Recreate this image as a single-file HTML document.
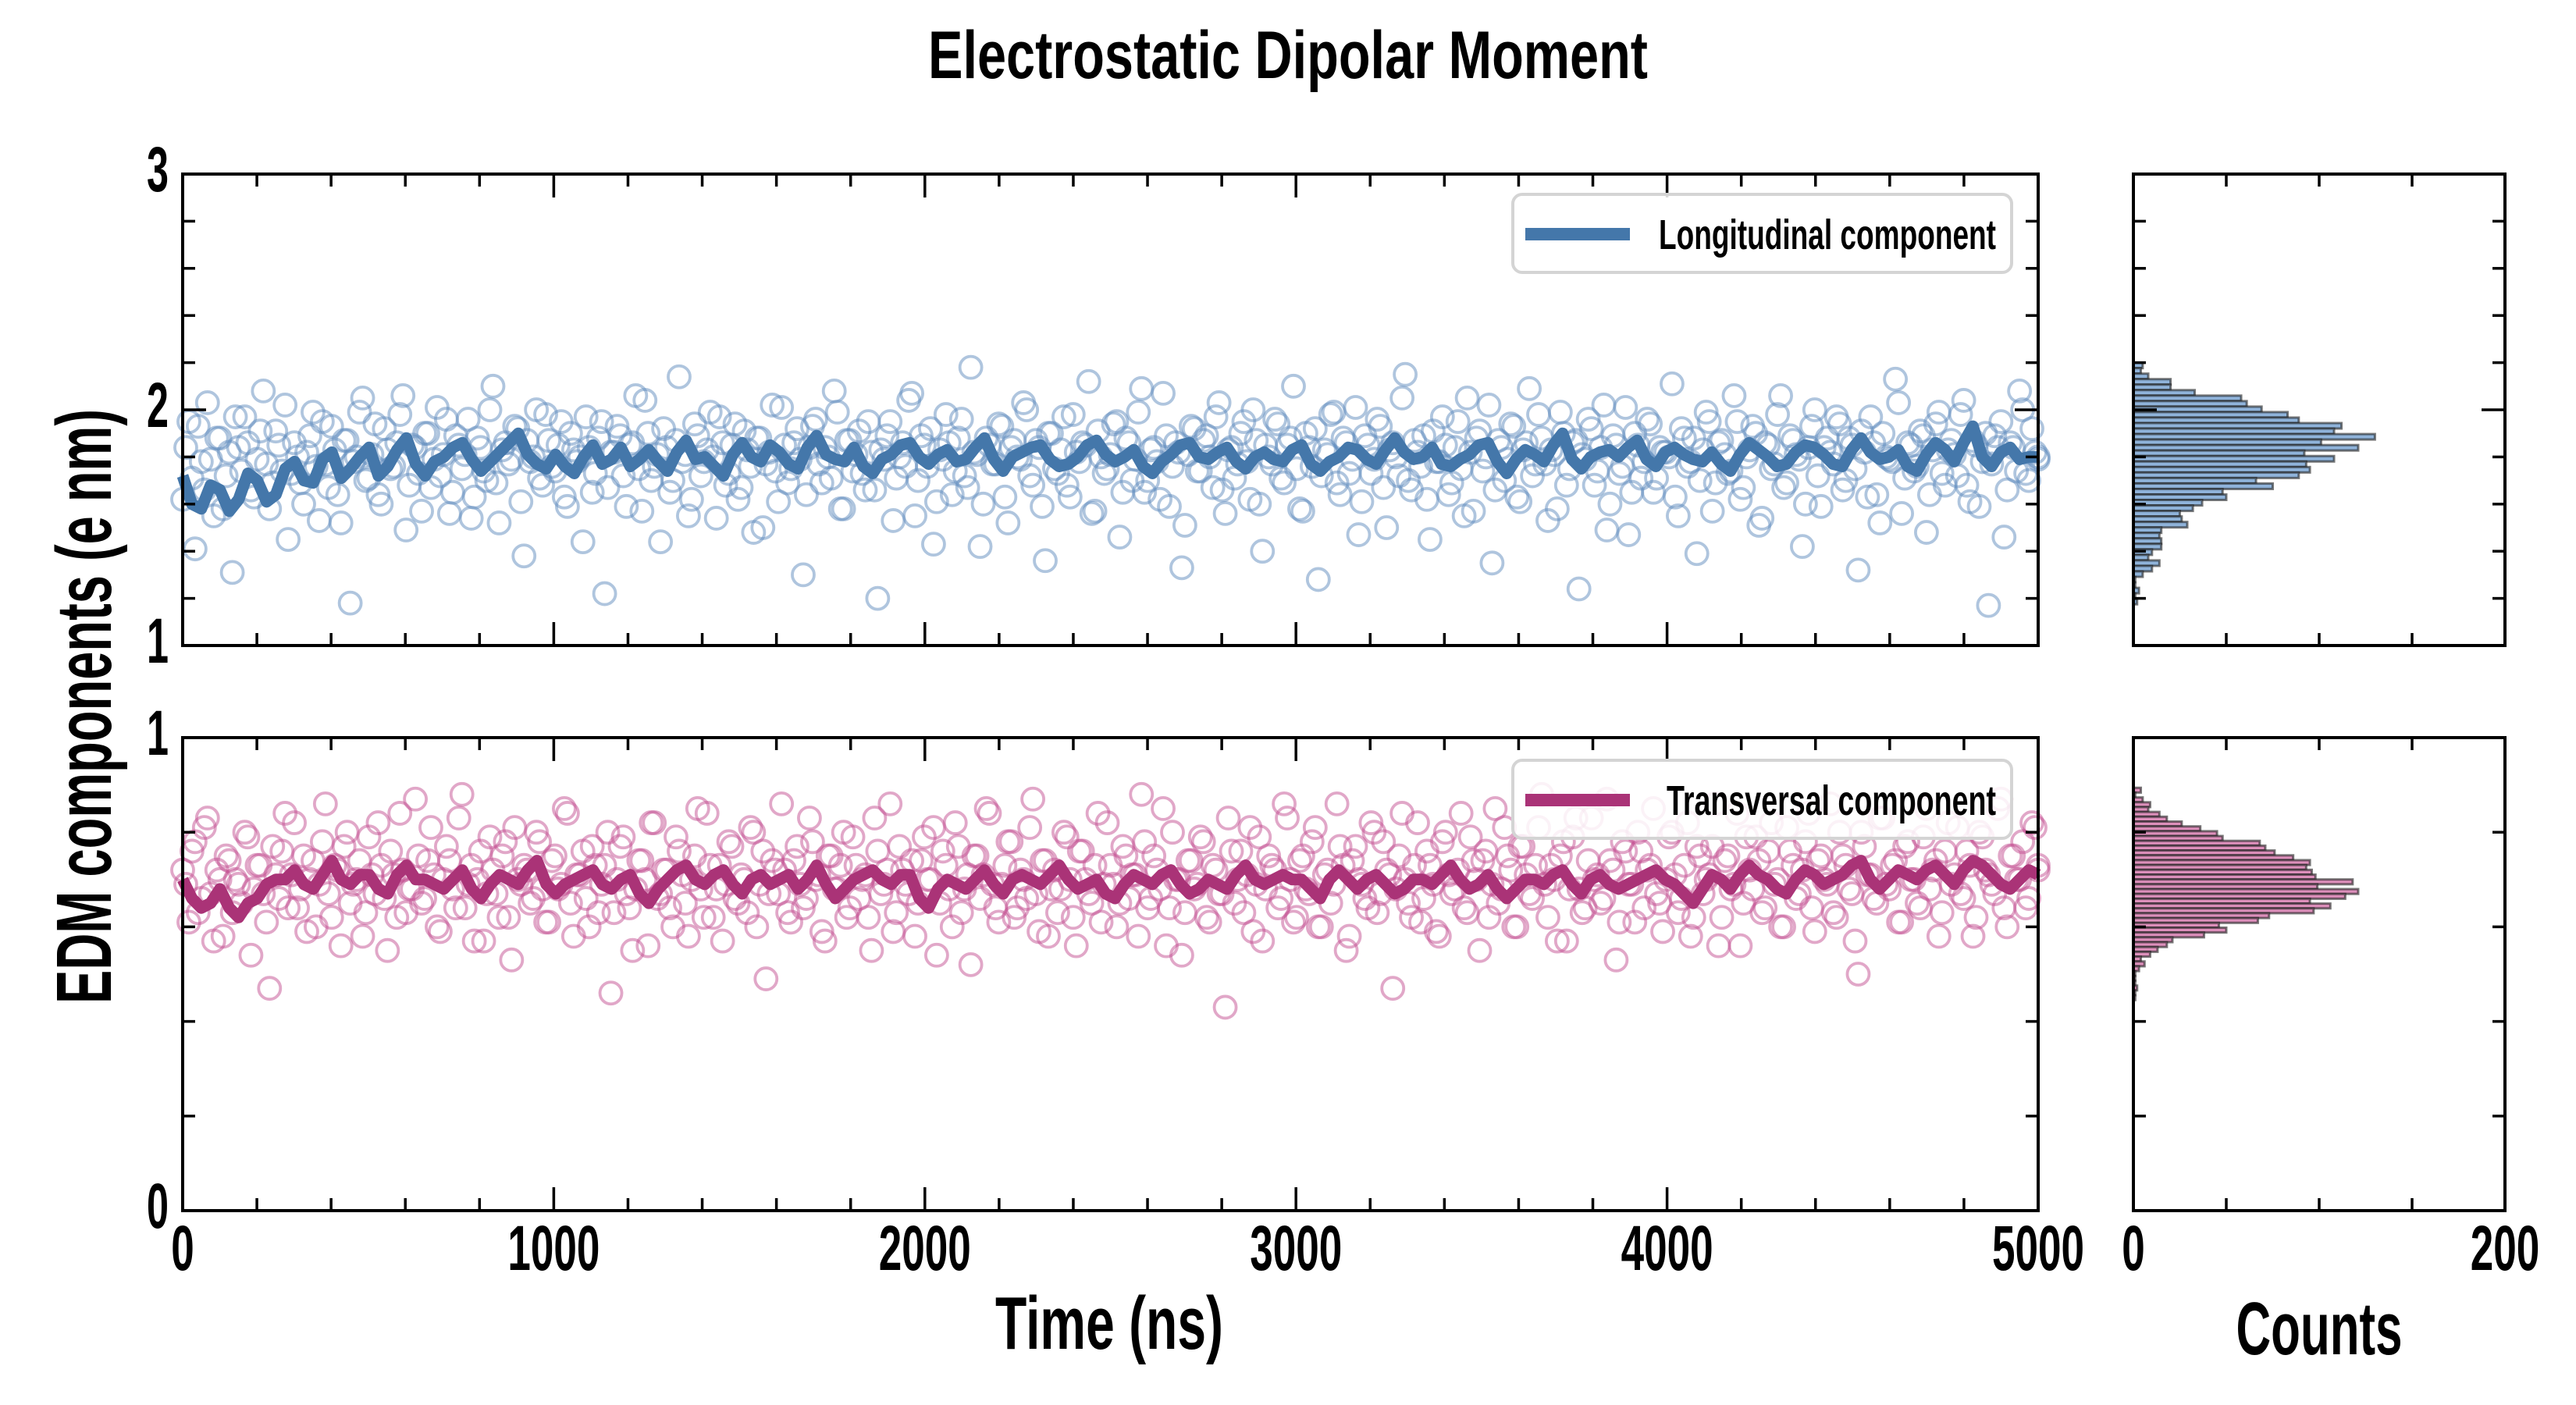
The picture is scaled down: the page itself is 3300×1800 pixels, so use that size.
<!DOCTYPE html>
<html><head><meta charset="utf-8"><style>
html,body{margin:0;padding:0;background:#fff;}
svg{display:block;}
text{font-family:"Liberation Sans Narrow","Liberation Sans",sans-serif;font-weight:bold;fill:#000;}
</style></head><body>
<svg id="chart" width="3300" height="1800" viewBox="0 0 3300 1800" xmlns="http://www.w3.org/2000/svg">
<text x="1650" y="100" text-anchor="middle" font-size="86" textLength="922" lengthAdjust="spacingAndGlyphs">Electrostatic Dipolar Moment</text>
<text transform="translate(142,905) rotate(-90)" text-anchor="middle" font-size="100" textLength="762" lengthAdjust="spacingAndGlyphs">EDM components (e nm)</text>
<text x="1421" y="1728" text-anchor="middle" font-size="96" textLength="292" lengthAdjust="spacingAndGlyphs">Time (ns)</text>
<text x="2971" y="1735" text-anchor="middle" font-size="96" textLength="213" lengthAdjust="spacingAndGlyphs">Counts</text>
<g id="layer"></g>
</svg>
<script>
const longValues = [
1.62,1.95,1.41,1.78,2.03,1.55,1.88,1.72,1.31,1.84,1.97,1.66,1.79,2.08,1.58,1.91,1.74,1.45,1.86,1.69,
1.82,1.99,1.53,1.77,1.93,1.64,1.87,1.18,1.80,2.05,1.71,1.94,1.60,1.83,1.76,1.98,1.49,1.85,1.73,1.90,
1.67,2.01,1.81,1.56,1.89,1.75,1.96,1.63,1.84,1.70,2.10,1.52,1.86,1.79,1.92,1.38,1.78,2.00,1.68,1.87,
1.74,1.95,1.59,1.83,1.80,1.97,1.65,1.88,1.22,1.82,1.93,1.72,1.85,2.06,1.57,1.90,1.76,1.44,1.84,1.70,
2.14,1.81,1.62,1.89,1.78,1.99,1.54,1.86,1.73,1.94,1.67,1.83,1.48,1.88,1.77,2.02,1.61,1.85,1.75,1.92,
1.30,1.84,1.96,1.69,1.80,2.08,1.58,1.87,1.74,1.91,1.66,1.82,1.20,1.79,1.95,1.71,1.86,2.04,1.55,1.89,
1.76,1.43,1.83,1.98,1.64,1.88,1.72,2.18,1.81,1.60,1.85,1.77,1.93,1.52,1.87,1.79,2.00,1.68,1.84,1.36,
1.90,1.73,1.97,1.63,1.82,1.86,2.12,1.57,1.80,1.75,1.94,1.46,1.88,1.70,1.99,1.65,1.83,1.78,2.07,1.59,
1.86,1.33,1.81,1.92,1.74,1.89,1.67,2.03,1.56,1.84,1.77,1.95,1.62,1.87,1.40,1.80,1.96,1.71,1.85,2.10,
1.58,1.90,1.76,1.28,1.83,1.98,1.69,1.88,1.73,2.01,1.61,1.85,1.79,1.93,1.50,1.86,1.72,2.15,1.66,1.82,
1.89,1.45,1.78,1.97,1.64,1.84,1.75,2.05,1.57,1.91,1.80,1.35,1.87,1.70,1.94,1.63,1.83,2.09,1.77,1.88,
1.53,1.81,1.99,1.68,1.86,1.24,1.79,1.92,1.74,2.02,1.60,1.85,1.76,1.47,1.90,1.71,1.96,1.65,1.84,1.82,
2.11,1.55,1.88,1.78,1.39,1.83,1.95,1.69,1.87,1.73,2.06,1.62,1.80,1.93,1.51,1.86,1.75,1.98,1.67,1.89,
1.81,1.42,1.84,2.00,1.59,1.88,1.77,1.94,1.70,1.85,1.32,1.82,1.97,1.64,1.90,1.79,2.13,1.56,1.86,1.74,
1.91,1.48,1.83,1.99,1.68,1.87,1.72,2.04,1.61,1.85,1.78,1.17,1.89,1.95,1.66,1.84,2.08,1.73,1.92,1.80];
const longValuesB = [
1.84,1.71,1.93,1.66,1.79,1.88,1.58,1.82,1.97,1.74,1.86,1.63,1.91,1.77,1.69,1.85,2.02,1.73,1.80,1.60,
1.89,1.76,1.95,1.67,1.83,1.52,1.87,1.78,1.99,1.70,1.81,1.64,1.92,1.75,1.86,2.06,1.68,1.84,1.57,1.90,
1.79,1.72,1.96,1.65,1.85,1.81,1.54,1.88,1.74,2.00,1.69,1.83,1.77,1.93,1.61,1.87,1.80,1.71,1.98,1.76,
1.85,1.63,1.90,1.78,1.44,1.84,1.73,1.95,1.67,1.82,1.89,1.59,1.86,1.75,2.04,1.70,1.81,1.92,1.65,1.87,
1.78,1.55,1.94,1.72,1.83,1.80,1.97,1.68,1.85,1.62,1.91,1.76,1.88,1.50,1.82,1.74,2.01,1.69,1.86,1.79,
1.64,1.93,1.77,1.84,1.71,1.99,1.58,1.87,1.81,1.73,1.95,1.66,1.83,1.89,1.53,1.80,1.76,2.07,1.70,1.85,
1.92,1.61,1.79,1.86,1.74,1.96,1.67,1.82,1.42,1.88,1.77,1.94,1.63,1.84,1.80,2.03,1.72,1.87,1.59,1.90,
1.75,1.83,1.68,1.98,1.78,1.85,1.56,1.91,1.73,1.81,1.95,1.65,1.86,1.79,2.09,1.70,1.84,1.62,1.89,1.76,
1.82,1.51,1.93,1.74,1.87,1.80,1.97,1.66,1.83,1.71,1.90,1.78,2.00,1.60,1.85,1.77,1.94,1.69,1.88,1.75,
1.57,1.84,1.92,1.72,1.81,1.99,1.64,1.86,1.79,1.47,1.89,1.73,1.96,1.67,1.83,1.80,2.05,1.70,1.87,1.76,
1.62,1.91,1.78,1.85,1.69,1.95,1.55,1.82,1.88,1.74,2.02,1.66,1.84,1.79,1.93,1.61,1.86,1.72,1.98,1.77,
1.83,1.58,1.90,1.75,1.87,1.81,1.96,1.68,1.84,1.49,1.89,1.73,2.01,1.65,1.85,1.78,1.94,1.71,1.82,1.80,
1.63,1.92,1.76,1.88,1.70,1.99,1.57,1.86,1.81,1.74,1.95,1.67,1.83,1.90,1.54,1.85,1.77,2.06,1.69,1.87,
1.79,1.60,1.93,1.72,1.84,1.82,1.97,1.66,1.88,1.75,1.91,1.63,1.86,1.52,1.80,1.78,2.03,1.71,1.85,1.76,
1.89,1.64,1.94,1.73,1.83,1.81,1.98,1.68,1.87,1.59,1.90,1.77,1.84,1.46,1.86,1.74,2.00,1.70,1.82,1.79];
const transValues = [
0.72,0.61,0.78,0.66,0.83,0.57,0.70,0.75,0.63,0.69,0.80,0.54,0.73,0.67,0.47,0.71,0.76,0.64,0.82,0.68,
0.59,0.74,0.69,0.86,0.62,0.72,0.77,0.65,0.70,0.58,0.79,0.67,0.73,0.55,0.71,0.84,0.63,0.68,0.75,0.66,
0.81,0.60,0.70,0.74,0.64,0.88,0.69,0.57,0.76,0.67,0.72,0.62,0.78,0.53,0.70,0.73,0.65,0.80,0.68,0.61,
0.75,0.69,0.84,0.58,0.71,0.66,0.77,0.63,0.73,0.46,0.70,0.79,0.64,0.68,0.74,0.56,0.82,0.67,0.72,0.60,
0.76,0.65,0.70,0.85,0.62,0.73,0.68,0.57,0.78,0.66,0.71,0.63,0.80,0.69,0.49,0.74,0.67,0.72,0.61,0.77,
0.64,0.83,0.70,0.59,0.75,0.68,0.73,0.62,0.79,0.66,0.71,0.55,0.76,0.69,0.86,0.63,0.72,0.67,0.58,0.74,
0.70,0.81,0.65,0.73,0.60,0.77,0.68,0.52,0.75,0.71,0.84,0.64,0.69,0.78,0.62,0.72,0.66,0.87,0.59,0.74,
0.68,0.63,0.80,0.70,0.56,0.76,0.67,0.73,0.61,0.82,0.69,0.65,0.75,0.71,0.58,0.78,0.66,0.72,0.85,0.64,
0.70,0.54,0.74,0.68,0.79,0.62,0.73,0.67,0.43,0.76,0.70,0.63,0.81,0.69,0.57,0.75,0.72,0.66,0.83,0.61,
0.74,0.68,0.78,0.60,0.71,0.65,0.86,0.73,0.58,0.77,0.69,0.64,0.80,0.67,0.72,0.47,0.75,0.70,0.62,0.82,
0.66,0.73,0.59,0.78,0.71,0.68,0.84,0.63,0.74,0.55,0.76,0.69,0.65,0.81,0.72,0.60,0.77,0.67,0.73,0.88,
0.62,0.70,0.75,0.57,0.79,0.68,0.64,0.83,0.71,0.66,0.74,0.53,0.78,0.69,0.61,0.76,0.72,0.85,0.65,0.70,
0.80,0.63,0.73,0.58,0.77,0.67,0.71,0.86,0.62,0.75,0.69,0.56,0.79,0.68,0.74,0.64,0.82,0.70,0.60,0.76,
0.66,0.72,0.84,0.59,0.75,0.69,0.63,0.80,0.73,0.67,0.50,0.77,0.71,0.65,0.83,0.68,0.74,0.61,0.78,0.70,
0.64,0.85,0.72,0.58,0.76,0.69,0.81,0.66,0.73,0.62,0.79,0.71,0.67,0.87,0.60,0.75,0.70,0.64,0.82,0.72];
const transValuesB = [
0.69,0.76,0.63,0.81,0.67,0.72,0.58,0.74,0.70,0.65,0.79,0.68,0.73,0.61,0.77,0.66,0.84,0.71,0.64,0.75,
0.70,0.60,0.78,0.67,0.73,0.56,0.80,0.69,0.74,0.63,0.71,0.82,0.66,0.76,0.62,0.72,0.68,0.87,0.65,0.74,
0.71,0.59,0.77,0.68,0.83,0.64,0.73,0.70,0.57,0.79,0.67,0.75,0.62,0.81,0.69,0.72,0.66,0.78,0.61,0.74,
0.68,0.85,0.65,0.71,0.76,0.60,0.73,0.69,0.80,0.63,0.77,0.67,0.55,0.74,0.70,0.82,0.66,0.72,0.64,0.79,
0.71,0.58,0.75,0.68,0.84,0.62,0.73,0.69,0.77,0.65,0.70,0.81,0.60,0.76,0.67,0.72,0.86,0.63,0.74,0.69,
0.66,0.78,0.71,0.57,0.75,0.68,0.80,0.64,0.73,0.70,0.62,0.83,0.67,0.72,0.59,0.77,0.69,0.74,0.65,0.79,
0.70,0.54,0.76,0.68,0.82,0.63,0.71,0.75,0.66,0.85,0.69,0.61,0.73,0.78,0.64,0.70,0.81,0.67,0.74,0.58,
0.72,0.68,0.79,0.62,0.76,0.70,0.65,0.84,0.69,0.73,0.60,0.77,0.66,0.71,0.88,0.64,0.75,0.68,0.56,0.80,
0.70,0.63,0.74,0.69,0.78,0.61,0.72,0.67,0.83,0.65,0.76,0.71,0.59,0.79,0.68,0.73,0.64,0.86,0.70,0.62,
0.75,0.67,0.81,0.60,0.72,0.69,0.77,0.55,0.74,0.70,0.66,0.82,0.63,0.78,0.71,0.68,0.84,0.65,0.73,0.61,
0.76,0.69,0.58,0.80,0.67,0.72,0.64,0.79,0.70,0.74,0.62,0.85,0.68,0.75,0.60,0.77,0.71,0.66,0.81,0.69,
0.73,0.57,0.78,0.68,0.83,0.63,0.74,0.70,0.65,0.87,0.72,0.61,0.76,0.69,0.80,0.64,0.73,0.67,0.59,0.79,
0.71,0.66,0.82,0.62,0.75,0.70,0.77,0.56,0.74,0.68,0.84,0.65,0.72,0.79,0.63,0.76,0.69,0.60,0.81,0.73,
0.67,0.78,0.64,0.74,0.70,0.86,0.62,0.75,0.68,0.57,0.80,0.71,0.66,0.83,0.69,0.73,0.61,0.77,0.70,0.65,
0.79,0.68,0.74,0.63,0.82,0.71,0.67,0.76,0.58,0.80,0.72,0.69,0.85,0.64,0.75,0.70,0.78,0.66,0.81,0.73];
const longLine = [
1.72,1.58,1.66,1.62,1.70,1.64,1.78,1.69,1.82,1.75,1.84,1.76,1.88,1.72,1.80,1.86,1.74,1.82,1.90,1.77,
1.81,1.73,1.85,1.79,1.76,1.83,1.74,1.87,1.80,1.72,1.86,1.78,1.82,1.75,1.89,1.79,1.84,1.73,1.81,1.86,
1.77,1.83,1.79,1.88,1.74,1.82,1.85,1.76,1.80,1.87,1.78,1.83,1.73,1.81,1.86,1.79,1.84,1.75,1.82,1.78,
1.85,1.74,1.80,1.83,1.77,1.88,1.79,1.84,1.76,1.81,1.86,1.73,1.83,1.78,1.90,1.75,1.82,1.80,1.87,1.76,
1.84,1.79,1.82,1.74,1.86,1.80,1.77,1.85,1.81,1.76,1.88,1.79,1.83,1.74,1.86,1.78,1.93,1.76,1.84,1.80];
const longLineB = [
1.60,1.68,1.57,1.73,1.61,1.75,1.70,1.79,1.71,1.80,1.72,1.83,1.77,1.78,1.84,1.79,1.78,1.86,1.81,1.75,
1.76,1.80,1.77,1.84,1.79,1.78,1.82,1.79,1.76,1.81,1.80,1.85,1.77,1.84,1.81,1.78,1.76,1.79,1.85,1.80,
1.81,1.78,1.84,1.79,1.80,1.84,1.79,1.77,1.85,1.81,1.80,1.76,1.78,1.85,1.80,1.82,1.78,1.80,1.79,1.83,
1.77,1.78,1.84,1.79,1.83,1.82,1.80,1.77,1.79,1.85,1.78,1.79,1.81,1.85,1.79,1.80,1.83,1.84,1.79,1.82,
1.81,1.78,1.77,1.81,1.83,1.76,1.82,1.84,1.77,1.83,1.82,1.80,1.76,1.81,1.83,1.86,1.80,1.82,1.79,1.80];
const transLine = [
0.70,0.64,0.68,0.62,0.66,0.70,0.72,0.68,0.74,0.69,0.71,0.67,0.73,0.70,0.68,0.72,0.66,0.71,0.69,0.74,
0.67,0.70,0.72,0.68,0.71,0.65,0.70,0.73,0.69,0.72,0.67,0.71,0.70,0.68,0.73,0.66,0.70,0.72,0.69,0.71,
0.64,0.70,0.68,0.72,0.67,0.71,0.69,0.73,0.68,0.70,0.66,0.71,0.69,0.72,0.67,0.70,0.68,0.73,0.69,0.71,
0.70,0.66,0.72,0.68,0.71,0.67,0.70,0.69,0.73,0.68,0.71,0.66,0.70,0.69,0.72,0.67,0.71,0.68,0.70,0.72,
0.69,0.65,0.71,0.68,0.73,0.70,0.67,0.72,0.69,0.71,0.74,0.68,0.72,0.70,0.73,0.69,0.74,0.71,0.68,0.72];
const transLineB = [
0.66,0.65,0.64,0.65,0.69,0.70,0.69,0.71,0.70,0.71,0.68,0.71,0.70,0.69,0.70,0.68,0.69,0.70,0.72,0.69,
0.69,0.71,0.69,0.70,0.67,0.68,0.72,0.70,0.71,0.69,0.70,0.69,0.71,0.70,0.69,0.68,0.71,0.70,0.71,0.66,
0.68,0.69,0.70,0.69,0.70,0.70,0.71,0.70,0.69,0.67,0.69,0.70,0.71,0.69,0.68,0.69,0.71,0.70,0.70,0.70,
0.68,0.70,0.70,0.70,0.69,0.68,0.70,0.71,0.70,0.69,0.68,0.68,0.70,0.71,0.69,0.70,0.69,0.69,0.71,0.70,
0.67,0.68,0.70,0.71,0.71,0.68,0.70,0.71,0.70,0.73,0.70,0.70,0.71,0.72,0.71,0.72,0.73,0.69,0.70,0.71];
// histogram counts listed from highest bin downward
const longHistCounts = [5,4,8,20,20,33,58,61,69,83,89,112,108,130,101,121,92,108,93,95,89,66,75,48,50,37,32,25,26,29,15,14,15,15,10,8,14,10,5,1,1,3,1,2];
const longHistTop = 2.20;
const longHistBin = 0.0233;
const transHistCounts = [4,1,5,9,8,14,18,26,36,45,48,68,71,76,86,95,93,96,98,118,99,121,114,95,106,97,73,67,46,50,38,21,18,13,9,4,6,3,1,1,1,2,1,1];
const transHistTop = 0.894;
const transHistBin = 0.0102;
const timeMax = 5000;
const xTickLabels = ["0","1000","2000","3000","4000","5000"];
const countTickLabels = ["0","200"];
const longYLabels = ["1","2","3"];
const transYLabels = ["0","1"];

const NS = "http://www.w3.org/2000/svg";
const layer = document.getElementById('layer');
const L = 234, R = 2611, HL = 2733, HR = 3209;
const P1 = {top:223, bot:827, min:1, max:3};
const P2 = {top:945, bot:1551, min:0, max:1};
function xs(t){ return L + (t/timeMax)*(R-L); }
function ys(p,v){ return p.bot - (v-p.min)/(p.max-p.min)*(p.bot-p.top); }
function cs(c){ return HL + c/200*(HR-HL); }
function mk(tag, attrs, parent){
  const e = document.createElementNS(NS, tag);
  for (const k in attrs) e.setAttribute(k, attrs[k]);
  (parent||layer).appendChild(e); return e;
}
function txt(s, x, y, size, w, anchor, name){
  const e = mk('text', {x:x, y:y, 'font-size':size, 'text-anchor':anchor, textLength:w, lengthAdjust:'spacingAndGlyphs'});
  
  
  e.textContent = s; return e;
}
function interleave(a, b){ const out = []; a.forEach((v,i)=>{ out.push(v); if (i < b.length) out.push(b[i]); }); return out; }

function scatter(vals, p, color, name, offset){
  const g = mk('g', {fill:'none', stroke:color, 'stroke-width':3.8, 'stroke-opacity':0.5});
  
  
  const n = vals.length;
  vals.forEach((v,i)=>{
    const t = Math.min(timeMax, (i + offset) * timeMax / (n - 1));
    const c = mk('circle', {cx:xs(t), cy:ys(p,v), r:14}, g);
    
    
  });
}
function line(vals, p, color, name){
  const n = vals.length;
  const d = vals.map((v,i)=>(i?'L':'M')+xs(i*timeMax/(n-1)).toFixed(1)+','+ys(p,v).toFixed(1)).join('');
  const e = mk('path', {d:d, fill:'none', stroke:color, 'stroke-width':15, 'stroke-linejoin':'round'});
  
  
}
function hist(counts, top, bin, p, fill, name){
  const g = mk('g', {});
  
  
  counts.forEach((c,i)=>{
    const y1 = ys(p, top - i*bin), y2 = ys(p, top - (i+1)*bin);
    const r = mk('rect', {x:HL, y:y1, width:cs(c)-HL, height:y2-y1, fill:fill, stroke:'rgba(30,30,30,0.6)', 'stroke-width':3}, g);
    
    
  });
}
function frame(x0, x1, p, xMajor, xMinor, xv2px, yMajorStep, yMinorStep, name){
  const g = mk('g', {stroke:'#000', 'stroke-width':3.5, fill:'none'});
  
  
  for (let v = xMinor[0]; v <= xMinor[1] + 1e-9; v += xMinor[2]){
    const x = xv2px(v);
    const isMaj = Math.abs(v/xMajor - Math.round(v/xMajor)) < 1e-6;
    const len = isMaj ? 30 : 16;
    mk('line', {x1:x, y1:p.bot, x2:x, y2:p.bot-len}, g);
    mk('line', {x1:x, y1:p.top, x2:x, y2:p.top+len}, g);
  }
  for (let v = p.min; v <= p.max + 1e-9; v += yMinorStep){
    const y = ys(p, v);
    const isMaj = Math.abs(v/yMajorStep - Math.round(v/yMajorStep)) < 1e-6;
    const len = isMaj ? 30 : 16;
    mk('line', {x1:x0, y1:y, x2:x0+len, y2:y}, g);
    mk('line', {x1:x1, y1:y, x2:x1-len, y2:y}, g);
  }
  mk('rect', {x:x0, y:p.top, width:x1-x0, height:p.bot-p.top, 'stroke-width':4}, g);
}
function legend(y0, label, color, w, name){
  const g = mk('g', {});
  
  
  const x0 = 1938;
  mk('rect', {x:x0, y:y0, width:2577-x0, height:100, rx:12, fill:'rgba(255,255,255,0.85)', stroke:'#d4d4d4', 'stroke-width':4}, g);
  mk('line', {x1:x0+16, y1:y0+51, x2:x0+150, y2:y0+51, stroke:color, 'stroke-width':16}, g);
  const t = mk('text', {x:2557, y:y0+70, 'font-size':54, 'text-anchor':'end', textLength:w, lengthAdjust:'spacingAndGlyphs'}, g);
  
  
  t.textContent = label;
}

// data
scatter(longValues, P1, 'rgb(95,140,190)', 'longitudinal-scatter', 0);
scatter(longValuesB, P1, 'rgb(95,140,190)', 'longitudinal-scatter-b', 0.5);
line(interleave(longLine, longLineB), P1, '#4477aa', 'longitudinal-line');
scatter(transValues, P2, 'rgb(195,80,145)', 'transversal-scatter', 0);
scatter(transValuesB, P2, 'rgb(195,80,145)', 'transversal-scatter-b', 0.5);
line(interleave(transLine, transLineB), P2, '#aa3377', 'transversal-line');
hist(longHistCounts, longHistTop, longHistBin, P1, '#8fb3da', 'longitudinal-histogram');
hist(transHistCounts, transHistTop, transHistBin, P2, '#dd8fbb', 'transversal-histogram');

// frames
frame(L, R, P1, 1000, [0,5000,200], xs, 1, 0.2, 'top-axes');
frame(L, R, P2, 1000, [0,5000,200], xs, 1, 0.2, 'bottom-axes');
frame(HL, HR, P1, 200, [0,200,50], cs, 1, 0.2, 'top-hist-axes');
frame(HL, HR, P2, 200, [0,200,50], cs, 1, 0.2, 'bottom-hist-axes');

legend(249, 'Longitudinal component', '#4477aa', 432, 'legend-longitudinal');
legend(974, 'Transversal component', '#aa3377', 422, 'legend-transversal');

// tick labels
xTickLabels.forEach(s=>{ txt(s, xs(parseFloat(s)), 1627, 82, s.length*29.5, 'middle', 'x-tick-label'); });
countTickLabels.forEach(s=>{ txt(s, cs(parseFloat(s)), 1627, 82, s.length*29.5, 'middle', 'count-tick-label'); });
longYLabels.forEach(s=>{ txt(s, 216, ys(P1, parseFloat(s)) + 22, 82, 28, 'end', 'top-y-tick-label'); });
transYLabels.forEach(s=>{ txt(s, 216, ys(P2, parseFloat(s)) + 22, 82, 28, 'end', 'bottom-y-tick-label'); });
</script>
</body></html>
